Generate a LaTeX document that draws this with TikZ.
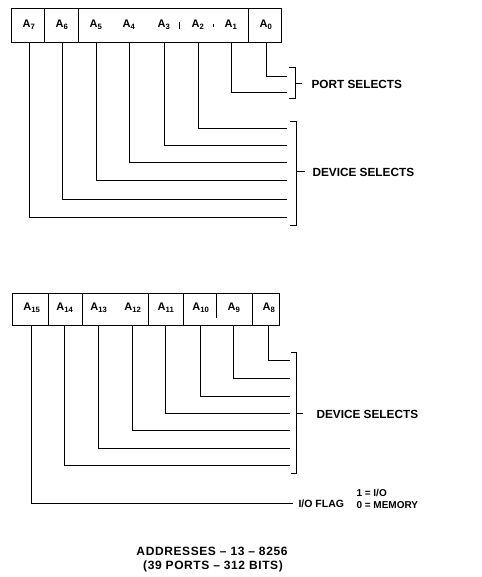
\documentclass[tikz,border=0pt]{standalone}
\usepackage{fontspec}
\setmainfont{Liberation Sans}
\begin{document}
\begin{tikzpicture}[x=1pt,y=-1pt,line width=1pt,
  bit/.style={font=\fontsize{11}{13}\selectfont\bfseries,inner sep=0pt},
  lbl/.style={font=\fontsize{11.8}{13}\selectfont\bfseries,anchor=west,inner sep=0pt},
  note/.style={font=\fontsize{10}{12}\selectfont\bfseries,inner sep=0pt},
  foot/.style={font=\fontsize{12}{14}\selectfont\bfseries\addfontfeatures{LetterSpace=5},inner sep=0pt},
  regbox/.style={draw,line width=1.2pt,inner sep=0pt,anchor=north west,minimum height=34pt},
  divider/.style={line width=1pt}]
\useasboundingbox (0,0) rectangle (481,577);

% ---------- upper register ----------
\node[regbox,minimum width=270pt] (top) at (11,8) {};
\draw[divider] (44,8) -- (44,42);
\draw[divider] (78,8) -- (78,42);
\draw[divider] (248,8) -- (248,42);
\draw[divider] (179,22) -- (179,29);
\draw[divider] (213,24) -- (213,27);

\node[bit] (a7) at (29,25) {A\textsubscript{7}};
\node[bit] (a6) at (62,25) {A\textsubscript{6}};
\node[bit] (a5) at (96,25) {A\textsubscript{5}};
\node[bit] (a4) at (129,25) {A\textsubscript{4}};
\node[bit] (a3) at (164,25) {A\textsubscript{3}};
\node[bit] (a2) at (198,25) {A\textsubscript{2}};
\node[bit] (a1) at (231,25) {A\textsubscript{1}};
\node[bit] (a0) at (266,25) {A\textsubscript{0}};

\coordinate (e0) at (287,77);
\coordinate (e1) at (287,93);
\coordinate (e2) at (287,129);
\coordinate (e3) at (287,146);
\coordinate (e4) at (287,163);
\coordinate (e5) at (287,181);
\coordinate (e6) at (287,199);
\coordinate (e7) at (287,217);
\foreach \i in {0,...,7} {\draw (a\i |- top.south) |- (e\i);}

% port selects bracket
\draw (289,68) -| (295,99) -- (289,99);
\coordinate (pb) at (295,84);
\node[lbl] (port) at (311,84) {PORT SELECTS};
\draw (pb) -- (302,84);

% device selects bracket (upper)
\draw (290,122) -| (296,225) -- (290,225);
\coordinate (db1) at (296,172);
\node[lbl] (dev1) at (312,172) {DEVICE SELECTS};
\draw (db1) -- (305,172);

% ---------- lower register ----------
\node[regbox,minimum width=267pt,minimum height=32pt] (bot) at (12,293) {};
\draw[divider] (48,293) -- (48,325);
\draw[divider] (82,293) -- (82,325);
\draw[divider] (148,293) -- (148,325);
\draw[divider] (183,293) -- (183,325);
\draw[divider] (216,293) -- (216,318);
\draw[divider] (252,293) -- (252,325);

\node[bit] (b15) at (32,308) {A\textsubscript{15}};
\node[bit] (b14) at (65,308) {A\textsubscript{14}};
\node[bit] (b13) at (99,308) {A\textsubscript{13}};
\node[bit] (b12) at (133,308) {A\textsubscript{12}};
\node[bit] (b11) at (166,308) {A\textsubscript{11}};
\node[bit] (b10) at (201,308) {A\textsubscript{10}};
\node[bit] (b9) at (234,308) {A\textsubscript{9}};
\node[bit] (b8) at (269,308) {A\textsubscript{8}};

\coordinate (f8) at (290,360);
\coordinate (f9) at (290,378);
\coordinate (f10) at (290,396);
\coordinate (f11) at (290,413);
\coordinate (f12) at (290,430);
\coordinate (f13) at (290,448);
\coordinate (f14) at (290,465);
\foreach \i in {8,...,14} {\draw ([xshift=-1pt]b\i |- bot.south) |- (f\i);}

% device selects bracket (lower)
\draw (291,352) -| (296,473) -- (291,473);
\coordinate (db2) at (296,413);
\node[lbl] (dev2) at (316,414) {DEVICE SELECTS};
\draw (db2) -- (303,413);

% I/O flag
\node[lbl,font=\fontsize{10.5}{12}\selectfont\bfseries] (flag) at (298,504) {I/O FLAG};
\draw ([xshift=-1pt]b15 |- bot.south) |- ([xshift=-5pt]flag.west |- 0,503);

\node[note,anchor=west] (code) at (356,500) {\begin{tabular}{@{}r@{ = }l@{}}1 & I/O\\[0pt] 0 & MEMORY\end{tabular}};

% footnote
\node[foot] (addr) at (212,551) {ADDRESSES -- 13 -- 8256};
\node[foot] (ports) at (213,566) {(39 PORTS -- 312 BITS)};
\end{tikzpicture}
\end{document}
